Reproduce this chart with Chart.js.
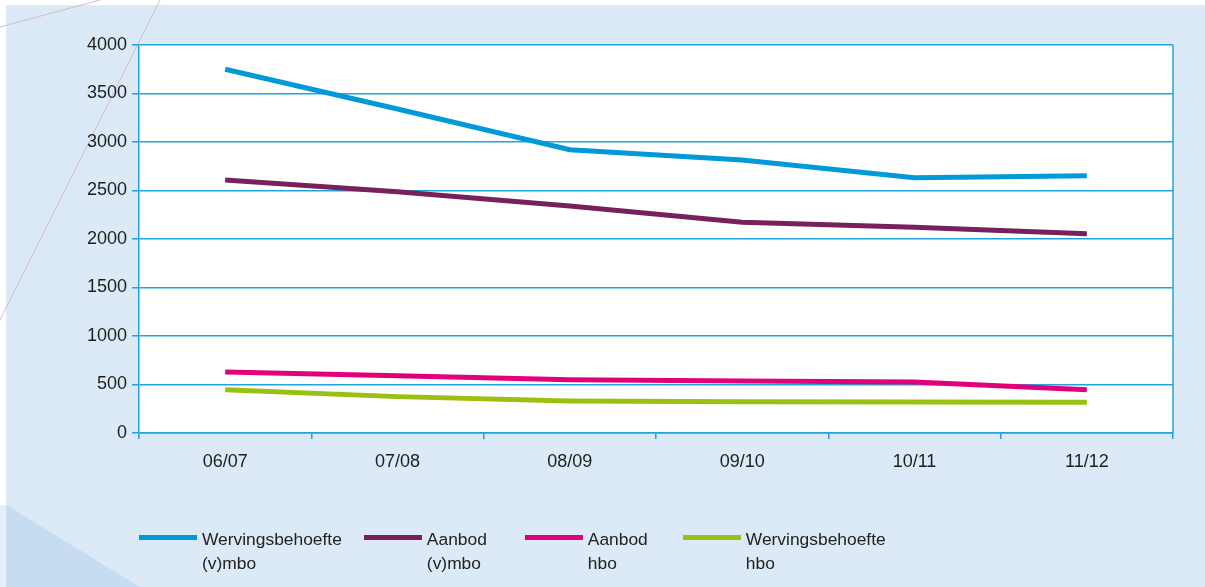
<!DOCTYPE html>
<html>
<head>
<meta charset="utf-8">
<script src="https://cdn.jsdelivr.net/npm/chart.js@4.4.1/dist/chart.umd.min.js"></script>
<style>
  html, body { margin: 0; padding: 0; background: #ffffff; }
  #wrap { position: relative; width: 1205px; height: 587px; overflow: hidden; }
  #legend { position: absolute; left: 139px; top: 527px; display: flex; font-family: "Liberation Sans", Arial, sans-serif; font-size: 17.4px; color: #222; line-height: 24px; }
  .item { display: flex; align-items: flex-start; }
  .swatch { width: 58px; height: 5px; margin-top: 8px; margin-right: 5px; }
</style>
</head>
<body>
<div id="wrap">
  <canvas id="chart" width="1205" height="587"></canvas>
  <div id="legend"></div>
</div>
<script>
// jaren (categorieen)
const labels = ["06/07", "07/08", "08/09", "09/10", "10/11", "11/12"];

// reeksen
const wervingMbo = [3750, 3340, 2920, 2815, 2632, 2653];
const aanbodMbo = [2608, 2488, 2340, 2172, 2120, 2055];
const aanbodHbo = [629, 590, 550, 535, 525, 447];
const wervingHbo = [447, 375, 330, 323, 320, 316];

const seriesNames = [["Wervingsbehoefte", "(v)mbo"], ["Aanbod", "(v)mbo"], ["Aanbod", "hbo"], ["Wervingsbehoefte", "hbo"]];
const seriesColors = ["#009ad8", "#77205b", "#e2007a", "#9bc011"];

const yMin = 0;
const yMax = 4000;
const yStep = 500;

const GRID = "#21a3db";
const FONT = "'Liberation Sans', Arial, sans-serif";

// achtergrond, decoratieve lijnen en witte plotvlak
const decor = {
  id: "decor",
  beforeDraw(chart) {
    const { ctx, chartArea: a } = chart;
    ctx.save();
    ctx.fillStyle = "#ffffff";
    ctx.fillRect(0, 0, chart.width, chart.height);
    ctx.fillStyle = "#dce9f6";
    ctx.fillRect(6, 5, chart.width - 6, chart.height - 5);
    // donkerder driehoek linksonder
    ctx.fillStyle = "#c6dcf0";
    ctx.beginPath();
    ctx.moveTo(6, 505);
    ctx.lineTo(140, 587);
    ctx.lineTo(6, 587);
    ctx.closePath();
    ctx.fill();
    ctx.fillStyle = "#e6eef8";
    ctx.fillRect(0, 505, 6, 82);
    // dunne lijnen
    ctx.strokeStyle = "#d7b9cf";
    ctx.lineWidth = 1;
    ctx.beginPath();
    ctx.moveTo(0, 27);
    ctx.lineTo(100, 0);
    ctx.moveTo(160, 0);
    ctx.lineTo(0, 320);
    ctx.stroke();
    ctx.fillStyle = "#ffffff";
    ctx.fillRect(a.left, a.top, a.right - a.left, a.bottom - a.top);
    ctx.restore();
  },
  afterDatasetsDraw(chart) {
    const { ctx, chartArea: a } = chart;
    ctx.save();
    ctx.strokeStyle = GRID;
    ctx.lineWidth = 1.5;
    ctx.beginPath();
    ctx.moveTo(a.right, a.top);
    ctx.lineTo(a.right, a.bottom);
    ctx.stroke();
    ctx.restore();
  }
};

const datasets = [wervingMbo, aanbodMbo, aanbodHbo, wervingHbo].map((d, i) => ({
  label: seriesNames[i].join(" "),
  data: d,
  borderColor: seriesColors[i],
  backgroundColor: seriesColors[i],
  borderWidth: 5,
  pointRadius: 0,
  tension: 0,
  fill: false
}));

const chart = new Chart(document.getElementById("chart"), {
  type: "line",
  data: { labels, datasets },
  plugins: [decor],
  options: {
    responsive: false,
    animation: false,
    layout: { padding: { top: 45, right: 32, left: 0, bottom: 0 } },
    scales: {
      x: {
        offset: true,
        afterFit(scale) { scale.height = 154; },
        grid: { offset: true, drawOnChartArea: false, drawTicks: true, tickLength: 6, color: GRID, lineWidth: 1.5 },
        border: { color: GRID, width: 1.5 },
        ticks: { color: "#1e1e1e", font: { family: FONT, size: 18 }, padding: 12 }
      },
      y: {
        min: yMin,
        max: yMax,
        afterFit(scale) { scale.width = 139; },
        grid: { color: GRID, lineWidth: 1.5, tickLength: 7 },
        border: { color: GRID, width: 1.5 },
        ticks: {
          stepSize: yStep,
          color: "#1e1e1e",
          font: { family: FONT, size: 18 },
          padding: 5,
          callback: (v) => String(v)
        }
      }
    },
    plugins: {
      legend: { display: false },
      tooltip: { enabled: false }
    }
  }
});

// legenda met twee regels per item
const legend = document.getElementById("legend");
const gaps = [0, 22, 38, 35];
chart.data.datasets.forEach((ds, i) => {
  const item = document.createElement("div");
  item.className = "item";
  item.style.marginLeft = gaps[i] + "px";
  const sw = document.createElement("div");
  sw.className = "swatch";
  sw.style.background = ds.borderColor;
  const txt = document.createElement("div");
  txt.innerHTML = seriesNames[i].join("<br>");
  item.appendChild(sw);
  item.appendChild(txt);
  legend.appendChild(item);
});
</script>
</body>
</html>
